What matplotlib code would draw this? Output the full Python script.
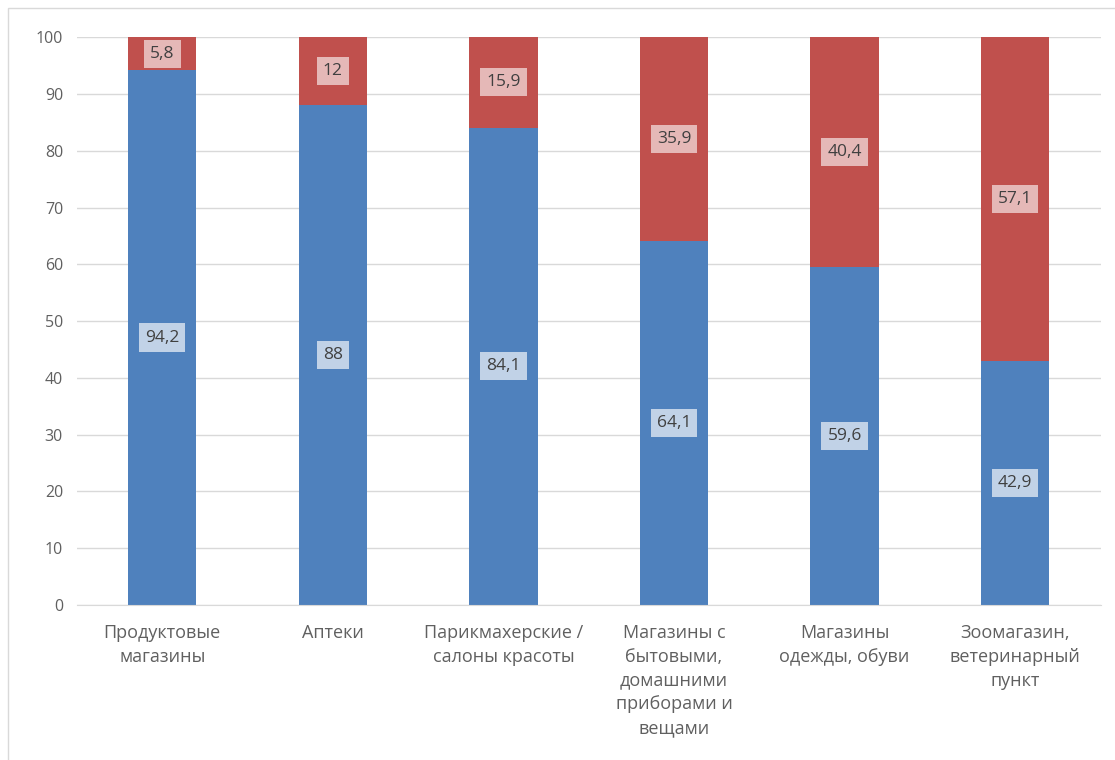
import matplotlib.pyplot as plt
from matplotlib.patches import Rectangle

categories = ['Продуктовые\nмагазины', 'Аптеки', 'Парикмахерские /\nсалоны красоты',
              'Магазины с\nбытовыми,\nдомашними\nприборами и\nвещами',
              'Магазины\nодежды, обуви', 'Зоомагазин,\nветеринарный\nпункт']
blue_vals = [94.2, 88, 84.1, 64.1, 59.6, 42.9]
red_vals = [5.8, 12, 15.9, 35.9, 40.4, 57.1]

def fmt(v):
    s = ('%g' % v)
    return s.replace('.', ',')

plt.rcParams['font.family'] = ['Open Sans', 'DejaVu Sans']
text_col = '#606060'

fig = plt.figure(figsize=(11.15, 7.6), dpi=100)
ax = fig.add_axes([0.069, 0.204, 0.918, 0.747])

x = range(len(categories))
b1 = ax.bar(x, blue_vals, width=0.4, color='#4f81bd', zorder=2)
b2 = ax.bar(x, red_vals, width=0.4, bottom=blue_vals, color='#c0504d', zorder=2)

for i in x:
    ax.text(i, blue_vals[i] / 2, fmt(blue_vals[i]), ha='center', va='center',
            fontsize=12.5, color='#404040', zorder=3,
            bbox=dict(boxstyle='square,pad=0.35', facecolor='white', alpha=0.65, edgecolor='none'))
    ax.text(i, blue_vals[i] + red_vals[i] / 2, fmt(red_vals[i]), ha='center', va='center',
            fontsize=12.5, color='#404040', zorder=3,
            bbox=dict(boxstyle='square,pad=0.35', facecolor='white', alpha=0.6, edgecolor='none'))

ax.set_ylim(0, 100)
ax.set_xlim(-0.5, len(categories) - 0.5)
ax.set_yticks(range(0, 101, 10))
ax.set_xticks(list(x))
ax.set_xticklabels(categories, fontsize=13, color=text_col, linespacing=1.4, va='top')
ax.tick_params(axis='y', labelsize=11.5, labelcolor=text_col, length=0, pad=10)
ax.tick_params(axis='x', length=0, pad=14)
ax.grid(axis='y', color='#d9d9d9', linewidth=1, zorder=0)
for s in ['top', 'right', 'left']:
    ax.spines[s].set_visible(False)
ax.spines['bottom'].set_color('#d9d9d9')

fig.patches.append(Rectangle((8 / 1115, -0.01), 1.0, 1 - 8 / 760 + 0.01, transform=fig.transFigure,
                             fill=False, edgecolor='#d9d9d9', linewidth=1))

plt.savefig('out.png')
